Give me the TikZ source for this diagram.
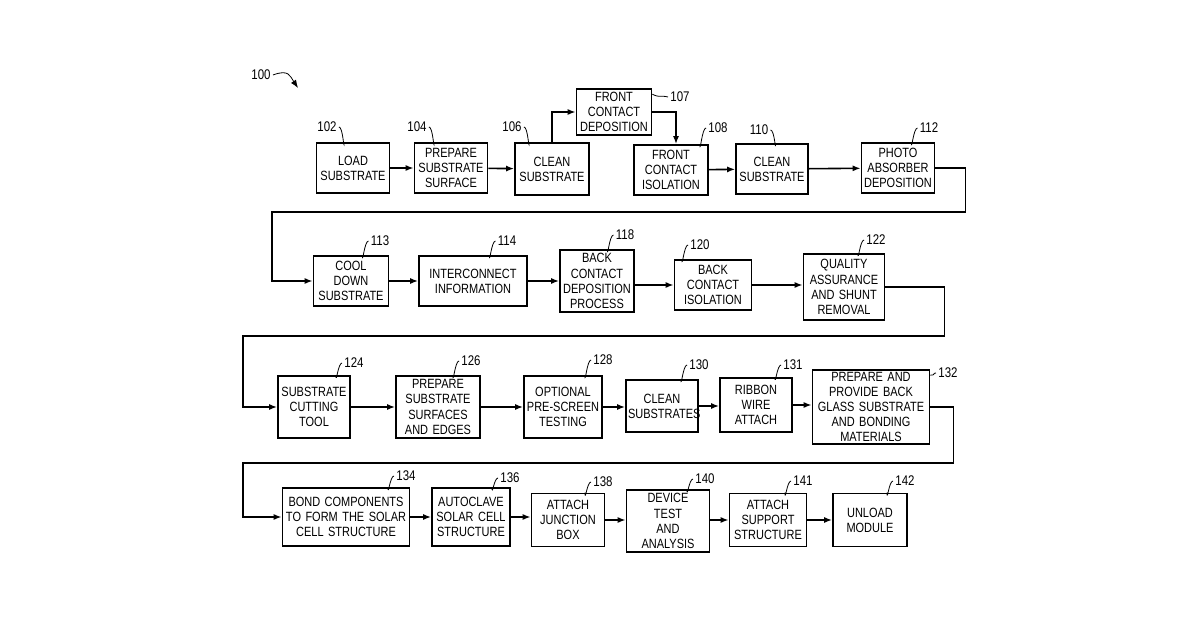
\documentclass[tikz,border=0pt]{standalone}
\usepackage{fontspec}
\setmainfont{Liberation Sans}
\newfontfamily\boxfont{Liberation Sans}[FakeStretch=0.82]
\usetikzlibrary{arrows.meta}

\begin{document}
\begin{tikzpicture}[x=0.5pt,y=-0.5pt]
    % Define styles
    \tikzset{stage/.style={draw,thick,align=center,inner sep=0.5pt,font=\boxfont\fontsize{6.7}{7.6}\selectfont},
             flow/.style={thick,-{Latex[length=4pt,width=3pt]}},
             ref/.style={font=\boxfont\fontsize{7}{7.6}\selectfont,inner sep=1pt},
             lead/.style={thin}}
    \useasboundingbox (0,0) rectangle (1200,630);

    % Stages: number, center x, center y, width, height, text
    \foreach \n/\x/\y/\w/\h/\t in {
        102/353/168/73/50/{LOAD\\SUBSTRATE},
        104/451/168/73/50/{PREPARE\\SUBSTRATE\\SURFACE},
        106/552/169/74/52/{CLEAN\\SUBSTRATE},
        107/614/112/75/46/{FRONT\\CONTACT\\DEPOSITION},
        108/671/170/74/50/{FRONT\\CONTACT\\ISOLATION},
        110/772/169/72/50/{CLEAN\\SUBSTRATE},
        112/898/168/73/50/{PHOTO\\ABSORBER\\DEPOSITION},
        113/351/281/75/50/{COOL\\DOWN\\SUBSTRATE},
        114/473/281/108/50/{INTERCONNECT\\INFORMATION},
        118/597/281/74/62/{BACK\\CONTACT\\DEPOSITION\\PROCESS},
        120/713/285/77/50/{BACK\\CONTACT\\ISOLATION},
        122/844/287/81/66/{QUALITY\\ASSURANCE\\AND SHUNT\\REMOVAL},
        124/314/407/72/62/{SUBSTRATE\\CUTTING\\TOOL},
        126/438/407/84/62/{PREPARE\\SUBSTRATE\\SURFACES\\AND EDGES},
        128/563/407/78/62/{OPTIONAL\\PRE-SCREEN\\TESTING},
        130/662/406/72/52/{CLEAN\\SUBSTRATES},
        131/756/405/72/54/{RIBBON\\WIRE\\ATTACH},
        132/871/407/117/74/{PREPARE AND\\PROVIDE BACK\\GLASS SUBSTRATE\\AND BONDING\\MATERIALS},
        134/346/517/127/58/{BOND COMPONENTS\\TO FORM THE SOLAR\\CELL STRUCTURE},
        136/471/517/78/58/{AUTOCLAVE\\SOLAR CELL\\STRUCTURE},
        138/568/520/73/53/{ATTACH\\JUNCTION\\BOX},
        140/668/521/83/62/{DEVICE\\TEST\\AND\\ANALYSIS},
        141/768/520/77/53/{ATTACH\\SUPPORT\\STRUCTURE},
        142/870/520/74/53/{UNLOAD\\MODULE}}
    {
        \node[stage,minimum width=\w*0.5pt,minimum height=\h*0.5pt,text width=\w*0.5pt-2pt] (s\n) at (\x,\y) {\t};
    }

    % Reference numerals, leader from the label down to the box
    \foreach \n/\lx/\ly in {102/327/127, 104/417/127, 106/512/127, 110/759/130}
    {
        \node[ref] (l\n) at (\lx,\ly) {\n};
        \draw[lead] (l\n.east) .. controls +(2pt,0) and +(0,-5pt) .. ([xshift=2.5pt]l\n.east |- s\n.north);
    }
    % Reference numerals, leader from the box up to the label
    \foreach \n/\lx/\ly in {
        108/718/128, 112/929/128,
        113/380/241, 114/507/241, 118/625/235, 120/700/245, 122/876/240,
        124/354/363, 126/471/361, 128/603/360, 130/699/365, 131/793/365,
        134/406/476, 136/510/478, 138/603/482, 140/705/479, 141/803/481, 142/905/481}
    {
        \node[ref] (l\n) at (\lx,\ly) {\n};
        \draw[lead] ([xshift=-3pt]l\n.west |- s\n.north) .. controls +(0,-5pt) and +(-2pt,0) .. (l\n.west);
    }
    \node[ref] (l132) at (948,373) {132};
    \draw[lead] ([yshift=-3pt]s132.north east) .. controls +(3pt,0) and +(-2pt,0) .. (l132.west);
    \node[ref] (l107) at (680,97) {107};
    \draw[lead] ([yshift=-3pt]s107.north east) .. controls +(4pt,-2pt) and +(-4pt,1pt) .. (l107.west);
    \node[ref] (l100) at (261,75) {100};
    \coordinate (p100) at (298,88);
    \draw[thin,-{Latex[length=4pt,width=3pt]}] (l100.east) .. controls +(8pt,3pt) and +(-4pt,6pt) .. (p100);

    % Row 1
    \draw[flow] (s102) -- (s104);
    \draw[flow] (s104) -- (s106);
    \draw[flow] (s106.north) |- (s107.west);
    \draw[flow] (s107.east) -| ([xshift=2.5pt]s108.north);
    \draw[flow] (s108) -- (s110);
    \draw[flow] (s110) -- (s112);
    \draw[flow] (s112.east) -- ++(30,0) |- (935,212) -- (272,212) |- (s113.west);

    % Row 2
    \draw[flow] (s113) -- (s114);
    \draw[flow] (s114) -- (s118);
    \draw[flow] (s118.east |- s120) -- (s120);
    \draw[flow] (s120) -- (s122.west |- s120);
    \draw[flow] (s122.east) -- ++(59,0) -- ++(0,49) -- (243,336) |- (s124.west);

    % Row 3
    \draw[flow] (s124) -- (s126);
    \draw[flow] (s126) -- (s128);
    \draw[flow] (s128) -- (s130.west |- s128);
    \draw[flow] (s130) -- (s131.west |- s130);
    \draw[flow] (s131) -- (s132.west |- s131);
    \draw[flow] (s132.east) -- ++(23,0) -- ++(0,56) -- (243,463) |- (s134.west);

    % Row 4
    \draw[flow] (s134) -- (s136);
    \draw[flow] (s136) -- (s138.west |- s136);
    \draw[flow] (s138) -- (s140.west |- s138);
    \draw[flow] (s140.east |- s141) -- (s141);
    \draw[flow] (s141) -- (s142);
\end{tikzpicture}
\end{document}
